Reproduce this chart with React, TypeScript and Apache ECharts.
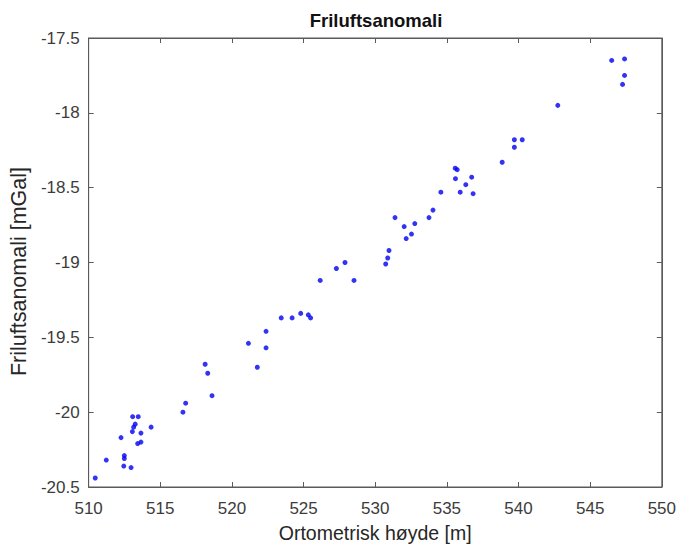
import React, { useEffect, useRef } from "react";
import * as echarts from "echarts";

const titleText = "Friluftsanomali";
const xAxisTitle = "Ortometrisk høyde [m]";
const yAxisTitle = "Friluftsanomali [mGal]";

const heightsM = [
  510.46, 511.23, 512.26, 512.49, 512.49, 512.45, 512.96, 513.07, 513.46, 513.25,
  513.14, 513.05, 513.65, 513.65, 513.42, 514.36, 516.58, 516.77, 518.61, 518.13,
  518.31, 521.15, 521.77, 522.38, 522.38, 523.44, 524.2, 524.8, 525.33, 525.49,
  526.16, 527.29, 527.89, 528.52, 530.73, 530.87, 530.96, 531.38, 532.02, 532.16,
  532.53, 532.76, 533.75, 534.03, 534.58, 535.93, 536.32, 536.83, 535.58, 535.72,
  535.6, 536.73, 538.86, 539.71, 539.71, 540.26, 542.74, 546.5, 547.4, 547.4, 547.26,
];
const anomaliesMGal = [
  -20.44, -20.32, -20.17, -20.29, -20.31, -20.36, -20.37, -20.03, -20.03, -20.08,
  -20.1, -20.13, -20.14, -20.2, -20.21, -20.1, -20.0, -19.94, -19.89, -19.68,
  -19.74, -19.54, -19.7, -19.57, -19.46, -19.37, -19.37, -19.34, -19.35, -19.37,
  -19.12, -19.04, -19.0, -19.12, -19.01, -18.97, -18.92, -18.7, -18.76, -18.84,
  -18.81, -18.74, -18.7, -18.65, -18.53, -18.53, -18.48, -18.54, -18.37, -18.38,
  -18.44, -18.43, -18.33, -18.23, -18.18, -18.18, -17.95, -17.65, -17.64, -17.75,
  -17.81,
];

const xMin = 510, xMax = 550, xStep = 5;
const yMin = -20.5, yMax = -17.5, yStep = 0.5;

export default function App() {
  const ref = useRef<HTMLDivElement>(null);
  useEffect(() => {
    if (!ref.current) return;
    const chart = echarts.init(ref.current, null, { renderer: "svg" });
    const axisColor = "#5a5a5a";
    const labelColor = "#3c3c3c";
    const font = "Liberation Sans, Arial, sans-serif";
    const gridLeft = 87, gridTop = 38, gridW = 578, gridH = 456;
    const common = {
      axisLine: { show: true, onZero: false, lineStyle: { color: axisColor, width: 1 } },
      axisTick: { show: true, inside: true, length: 5, lineStyle: { color: axisColor } },
      splitLine: { show: false },
    };
    chart.setOption({
      animation: false,
      backgroundColor: "#ffffff",
      graphic: [
        {
          type: "text",
          x: gridLeft + gridW / 2,
          y: 11,
          style: {
            text: titleText,
            textAlign: "center",
            textVerticalAlign: "top",
            font: `bold 18.5px ${font}`,
            fill: "#111111",
          },
        },
      ],
      grid: {
        left: gridLeft,
        top: gridTop,
        width: gridW,
        height: gridH,
        show: true,
        borderColor: axisColor,
        borderWidth: 1,
        backgroundColor: "transparent",
      },
      xAxis: [
        {
          type: "value",
          min: xMin,
          max: xMax,
          interval: xStep,
          position: "bottom",
          ...common,
          axisLabel: { color: labelColor, fontSize: 17, fontFamily: font, margin: 13 },
          name: xAxisTitle,
          nameLocation: "middle",
          nameGap: 36,
          nameTextStyle: { color: "#262626", fontSize: 19.5, fontFamily: font },
        },
        {
          type: "value",
          min: xMin,
          max: xMax,
          interval: xStep,
          position: "top",
          ...common,
          axisLabel: { show: false },
        },
      ],
      yAxis: [
        {
          type: "value",
          min: yMin,
          max: yMax,
          interval: yStep,
          position: "left",
          ...common,
          axisLabel: { color: labelColor, fontSize: 17, fontFamily: font, margin: 9 },
          name: yAxisTitle,
          nameLocation: "middle",
          nameGap: 55.5,
          nameTextStyle: {
            color: "#262626",
            fontSize: 21.5,
            fontFamily: font,
            padding: [0, 18, 0, 0],
          },
        },
        {
          type: "value",
          min: yMin,
          max: yMax,
          interval: yStep,
          position: "right",
          ...common,
          axisLabel: { show: false },
        },
      ],
      series: [
        {
          type: "scatter",
          xAxisIndex: 0,
          yAxisIndex: 0,
          symbol: "circle",
          symbolSize: 5,
          itemStyle: { color: "#0000f0" },
          data: heightsM.map((h, i) => [h, anomaliesMGal[i]]),
        },
      ],
    });
    return () => chart.dispose();
  }, []);
  return (
    <div
      ref={ref}
      style={{ position: "fixed", left: 0, top: 0, width: 679, height: 548 }}
    />
  );
}
